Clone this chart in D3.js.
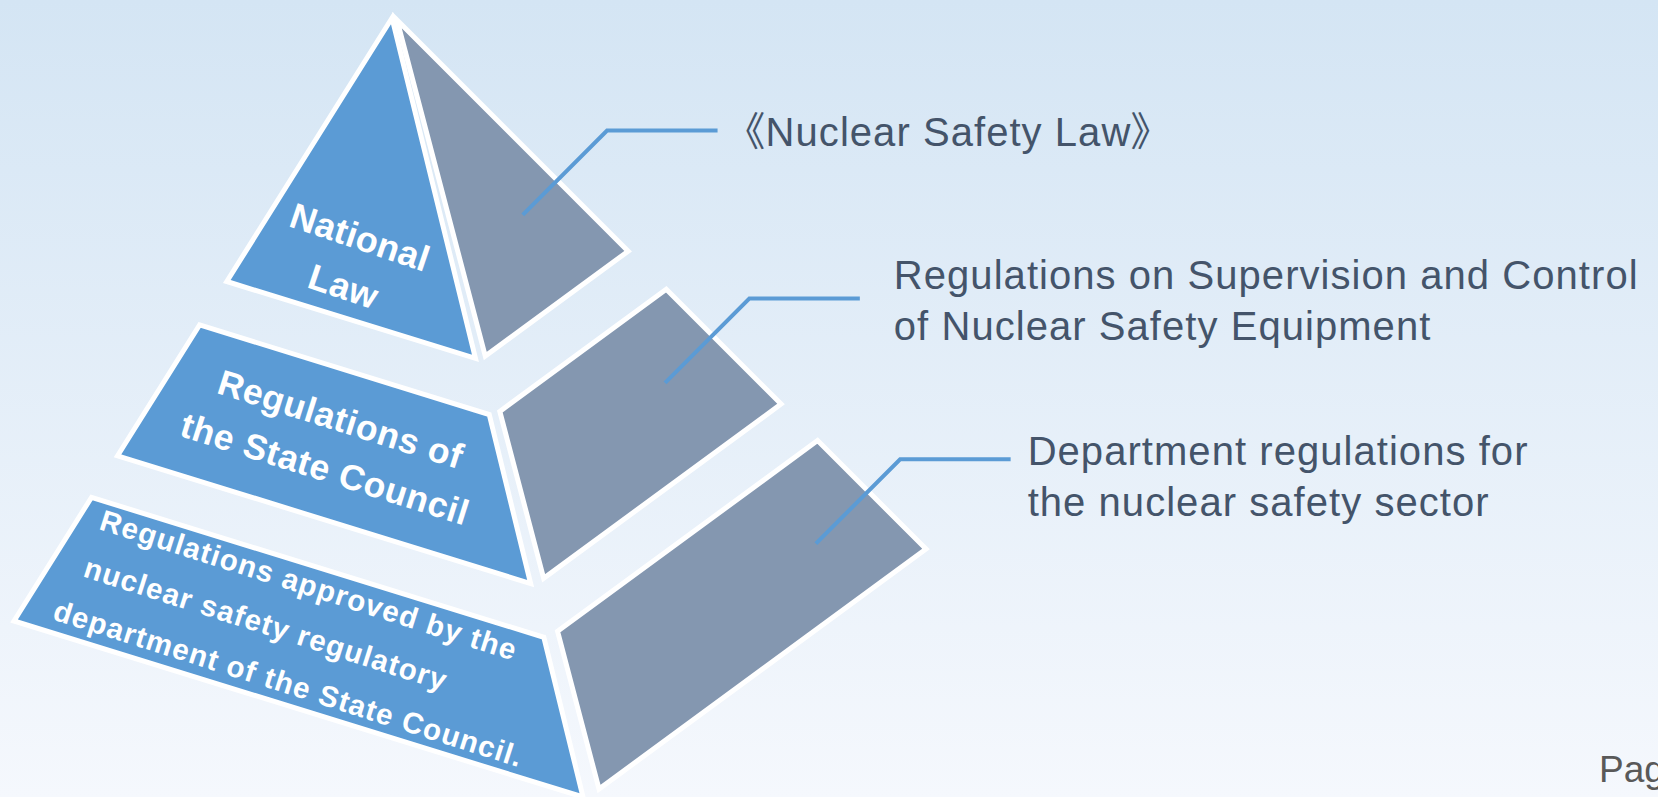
<!DOCTYPE html>
<html>
<head>
<meta charset="utf-8">
<script src="https://cdn.jsdelivr.net/npm/d3@7"></script>
<style>
  html, body { margin: 0; padding: 0; overflow: hidden; background: #f4f8fd; }
  svg { display: block; }
  text { font-family: "Liberation Sans", Arial, "Noto Sans CJK SC", sans-serif; font-feature-settings: "palt"; }
</style>
</head>
<body>
<div id="chart"></div>
<script>
// tiers of the pyramid, top to bottom
var levels = ['National Law', 'State Council regulations', 'Regulatory department rules'];
var levelLabels = [
  ['National', 'Law'],
  ['Regulations of', 'the State Council'],
  ['Regulations approved by the', 'nuclear safety regulatory', 'department of the State Council.']
];
var levelNotes = [
  ['《Nuclear Safety Law》'],
  ['Regulations on Supervision and Control', 'of Nuclear Safety Equipment'],
  ['Department regulations for', 'the nuclear safety sector']
];
var footerText = 'Page';

var width = 1658, height = 797;

// pyramid: each edge runs from an apex (t = 0) to the base (t = 1)
var front = {apex: [392, 18], left: [14, 621], right: [583, 797]};
var side = {apex: [397, 20], left: [599, 789], right: [926, 549]};
var tierSpan = [[0, 0.437], [0.509, 0.726], [0.795, 1]];

// where the leader line starts on each side face: [t, share across the face]
var leaderAnchor = [[0.313, 0.611], [0.61, 0.726], [0.906, 0.796]];
var leaderRise = 84.3, leaderRun = 110.5;

var labelLayout = [
  {x: 356, y: 249, angle: 18.6, size: 36, spacing: 0.3, lead: 52, anchor: 'middle', shift: [0, 0]},
  {x: 337, y: 431, angle: 17.5, size: 35.5, spacing: 0.6, lead: 52, anchor: 'middle', shift: [0, 0]},
  {x: 98, y: 529, angle: 17.6, size: 29.5, spacing: 1.15, lead: 50, anchor: 'start', shift: [0, -1, -17]}
];
var noteLayout = [{dx: 27, dy: 15.3}, {dx: 34, dy: -10}, {dx: 17, dy: 5.5}];

var blue = '#5b9bd5', slate = '#8497b0', ink = '#44546a';

function edge(a, b) {
  var s = d3.scaleLinear().domain([0, 1]).range([a, b]);
  return function(t) { return s(t).slice(); };
}
var frontL = edge(front.apex, front.left), frontR = edge(front.apex, front.right);
var sideL = edge(side.apex, side.left), sideR = edge(side.apex, side.right);

function face(l, r, span) {
  var pts = span[0] === 0 ? [l(0)] : [l(span[0]), r(span[0])];
  return pts.concat([r(span[1]), l(span[1])]);
}

var svg = d3.select('#chart').append('svg')
    .attr('width', width)
    .attr('height', height);

var grad = svg.append('defs').append('linearGradient')
    .attr('id', 'bg')
    .attr('x1', 0).attr('y1', 0).attr('x2', 0).attr('y2', 1);
grad.append('stop').attr('offset', '0%').attr('stop-color', '#d4e5f4');
grad.append('stop').attr('offset', '100%').attr('stop-color', '#f5f8fd');

svg.append('rect')
    .attr('width', width)
    .attr('height', height)
    .attr('fill', 'url(#bg)');

var line = d3.line();

var tiers = svg.selectAll('.tier')
    .data(levels)
  .enter().append('g')
    .attr('class', 'tier');

tiers.append('path')
    .attr('d', function(d, i) { return line(face(frontL, frontR, tierSpan[i])) + 'Z'; })
    .attr('fill', blue);

tiers.append('path')
    .attr('d', function(d, i) { return line(face(sideL, sideR, tierSpan[i])) + 'Z'; })
    .attr('fill', slate);

tiers.selectAll('path')
    .attr('stroke', '#fff')
    .attr('stroke-width', 5)
    .attr('stroke-linejoin', 'miter');

// labels on the front faces
tiers.append('text')
    .attr('transform', function(d, i) {
      var p = labelLayout[i];
      return 'translate(' + p.x + ',' + p.y + ') rotate(' + p.angle + ')';
    })
    .attr('fill', '#fff')
    .attr('font-weight', 'bold')
    .attr('font-size', function(d, i) { return labelLayout[i].size; })
    .attr('letter-spacing', function(d, i) { return labelLayout[i].spacing; })
    .attr('text-anchor', function(d, i) { return labelLayout[i].anchor; })
    .each(function(d, i) {
      var p = labelLayout[i];
      d3.select(this).selectAll('tspan')
          .data(levelLabels[i])
        .enter().append('tspan')
          .attr('x', function(s, j) { return p.shift[j] || 0; })
          .attr('y', function(s, j) { return j * p.lead; })
          .text(function(s) { return s; });
    });

// leader lines and notes
function leader(i) {
  var a = leaderAnchor[i];
  var p0 = sideL(a[0]), p1 = sideR(a[0]);
  var start = [p0[0] + a[1] * (p1[0] - p0[0]), p0[1] + a[1] * (p1[1] - p0[1])];
  var elbow = [start[0] + leaderRise, start[1] - leaderRise];
  return [start, elbow, [elbow[0] + leaderRun, elbow[1]]];
}

tiers.append('path')
    .attr('d', function(d, i) { return line(leader(i)); })
    .attr('fill', 'none')
    .attr('stroke', blue)
    .attr('stroke-width', 4);

tiers.append('text')
    .attr('fill', ink)
    .attr('font-size', 40)
    .attr('letter-spacing', 1.05)
    .each(function(d, i) {
      var end = leader(i)[2], n = noteLayout[i];
      d3.select(this).selectAll('tspan')
          .data(levelNotes[i])
        .enter().append('tspan')
          .attr('x', end[0] + n.dx)
          .attr('y', function(s, j) { return end[1] + n.dy + j * 51; })
          .text(function(s) { return s; });
    });

svg.append('text')
    .attr('x', 1599)
    .attr('y', 782)
    .attr('fill', '#595959')
    .attr('font-size', 37)
    .text(footerText);
</script>
</body>
</html>
